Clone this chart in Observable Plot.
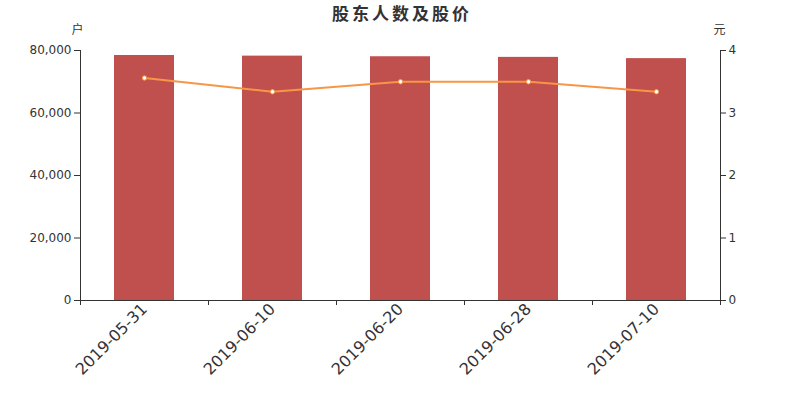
<!DOCTYPE html>
<html>
<head>
<meta charset="utf-8">
<script src="https://cdn.jsdelivr.net/npm/d3@7"></script>
<script src="https://cdn.jsdelivr.net/npm/@observablehq/plot@0.6"></script>
<style>
  html, body { margin: 0; padding: 0; background: #fff; }
  #chart svg { display: block; }
</style>
</head>
<body>
<div id="chart"></div>
<script>
const dates = ["2019-05-31", "2019-06-10", "2019-06-20", "2019-06-28", "2019-07-10"];
const holders = [78400, 78200, 78000, 77800, 77400];
const prices = [3.56, 3.34, 3.50, 3.50, 3.34];
const leftTicks = [0, 20000, 40000, 60000, 80000];
const rightTicks = [0, 1, 2, 3, 4];
const title = "股东人数及股价";
const leftUnit = "户";
const rightUnit = "元";

const ratio = 20000; // price -> holder scale (4 元 ↔ 80,000 户)
const rows = dates.map((d, i) => ({date: d, holders: holders[i], price: prices[i]}));

const W = 800, H = 400, ML = 80, MR = 80, MT = 50, MB = 100;
const band = (W - ML - MR) / dates.length;

const font = "DejaVu Sans, sans-serif";
const cjk = "Noto Sans CJK SC, sans-serif";

const chart = Plot.plot({
  width: W,
  height: H,
  marginLeft: ML,
  marginRight: MR,
  marginTop: MT,
  marginBottom: MB,
  style: {fontFamily: font, color: "#333", background: "#fff", overflow: "visible"},
  x: {type: "band", domain: dates, padding: 0},
  y: {domain: [0, 80000]},
  marks: [
    Plot.barY(rows, {x: "date", y: "holders", fill: "#c0504d", insetLeft: 34, insetRight: 34}),
    Plot.line(rows, {x: "date", y: d => d.price * ratio, stroke: "#f79646", strokeWidth: 2}),
    Plot.dot(rows, {x: "date", y: d => d.price * ratio, r: 2.2, fill: "#fff", stroke: "#f79646", strokeWidth: 1}),
    // axis lines
    Plot.ruleY([0], {stroke: "#333", strokeWidth: 1}),
    Plot.ruleX([dates[0]], {x: d => d, dx: -band / 2, stroke: "#333"}),
    Plot.ruleX([dates[dates.length - 1]], {x: d => d, dx: band / 2, stroke: "#333"}),
    Plot.axisY({anchor: "left", ticks: leftTicks, tickFormat: d3.format(","), tickSize: 6, tickPadding: 3, fontSize: 12, label: null, stroke: "#333", fill: "#333"}),
    Plot.axisY({anchor: "right", ticks: rightTicks.map(t => t * ratio), tickFormat: d => String(d / ratio), tickSize: 5, tickPadding: 3, fontSize: 12, label: null, stroke: "#333", fill: "#333"}),
    // x tick marks at band boundaries
    Plot.axisX({tickSize: 5, text: null, label: null, dx: -band / 2, stroke: "#333"}),
    Plot.axisX({ticks: [dates[dates.length - 1]], tickSize: 5, text: null, label: null, dx: band / 2, stroke: "#333"}),
    // x labels rotated
    Plot.axisX({tickSize: 0, tickPadding: 6, tickRotate: -45, fontSize: 16, label: null, fill: "#333"}),
    // title and unit labels
    Plot.text([title], {frameAnchor: "top", dy: -43, fontSize: 17, fontWeight: "bold", fill: "#333", fontFamily: cjk, className: "ttl"}),
    Plot.text([leftUnit], {frameAnchor: "top-left", dx: -3, dy: -25, textAnchor: "middle", fontSize: 12, fill: "#333", fontFamily: cjk}),
    Plot.text([rightUnit], {frameAnchor: "top-right", dx: -1, dy: -25, textAnchor: "middle", fontSize: 12, fill: "#333", fontFamily: cjk})
  ]
});
d3.select(chart).selectAll("text").filter(function () { return this.textContent === title; })
  .attr("letter-spacing", "3px").attr("dx", "1.5px");
document.getElementById("chart").appendChild(chart);
</script>
</body>
</html>
